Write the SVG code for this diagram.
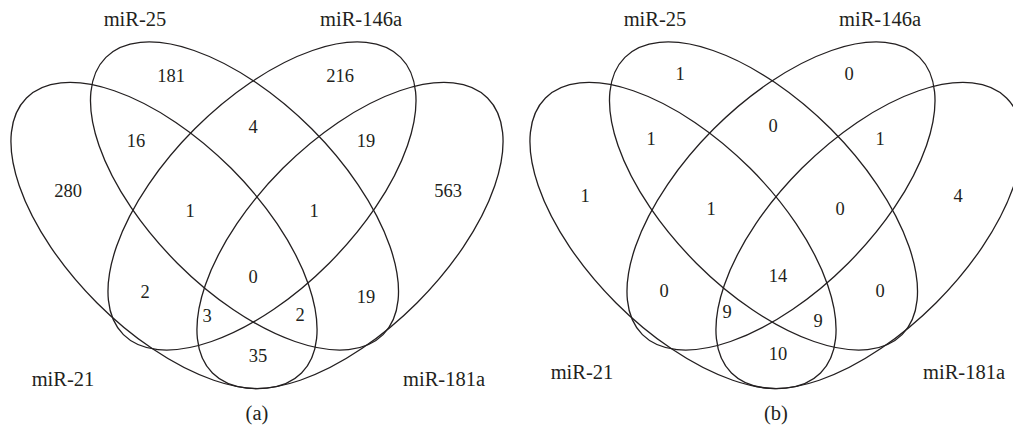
<svg xmlns="http://www.w3.org/2000/svg" width="1013" height="430" viewBox="0 0 1013 430">
<style>
.set{fill:none;stroke:#231f20;stroke-width:1.3}
.lbl{font-family:"Liberation Serif","Times New Roman",serif;font-size:20.5px;fill:#231f20;text-anchor:middle}
.num{font-family:"Liberation Serif","Times New Roman",serif;font-size:18.5px;fill:#231f20;text-anchor:middle}
</style>
<rect width="1013" height="430" fill="#fff"/>
<g id="panel-a">
  <g id="a-miR-21"><ellipse class="set" cx="164" cy="235.5" rx="194.5" ry="95" transform="rotate(45 164 235.5)"/><text class="lbl" x="63" y="386">miR-21</text></g>
  <g id="a-miR-25"><ellipse class="set" cx="244.5" cy="196" rx="196" ry="95" transform="rotate(45 244.5 196)"/><text class="lbl" x="135" y="26">miR-25</text></g>
  <g id="a-miR-146a"><ellipse class="set" cx="262" cy="196" rx="196" ry="95" transform="rotate(-45 262 196)"/><text class="lbl" x="361" y="26">miR-146a</text></g>
  <g id="a-miR-181a"><ellipse class="set" cx="350" cy="235.5" rx="194.5" ry="95" transform="rotate(-45 350 235.5)"/><text class="lbl" x="444" y="386">miR-181a</text></g>
  <g id="a-counts">
    <text class="num" x="171" y="82">181</text>
    <text class="num" x="340" y="82">216</text>
    <text class="num" x="136" y="147">16</text>
    <text class="num" x="253" y="133">4</text>
    <text class="num" x="366" y="147">19</text>
    <text class="num" x="68" y="197">280</text>
    <text class="num" x="448" y="197">563</text>
    <text class="num" x="190" y="217">1</text>
    <text class="num" x="314" y="217">1</text>
    <text class="num" x="253" y="283">0</text>
    <text class="num" x="145" y="298">2</text>
    <text class="num" x="366" y="303">19</text>
    <text class="num" x="207" y="322">3</text>
    <text class="num" x="300" y="321">2</text>
    <text class="num" x="258" y="362">35</text>
  </g>
  <text id="a-caption" class="lbl" x="257" y="420">(a)</text>
</g>
<g id="panel-b">
  <g id="b-miR-21"><ellipse class="set" cx="683" cy="235.5" rx="194.5" ry="95" transform="rotate(45 683 235.5)"/><text class="lbl" x="582" y="379">miR-21</text></g>
  <g id="b-miR-25"><ellipse class="set" cx="763.5" cy="196" rx="196" ry="95" transform="rotate(45 763.5 196)"/><text class="lbl" x="655" y="26">miR-25</text></g>
  <g id="b-miR-146a"><ellipse class="set" cx="781" cy="196" rx="196" ry="95" transform="rotate(-45 781 196)"/><text class="lbl" x="880" y="26">miR-146a</text></g>
  <g id="b-miR-181a"><ellipse class="set" cx="869" cy="235.5" rx="194.5" ry="95" transform="rotate(-45 869 235.5)"/><text class="lbl" x="964" y="379">miR-181a</text></g>
  <g id="b-counts">
    <text class="num" x="680" y="80">1</text>
    <text class="num" x="849" y="80">0</text>
    <text class="num" x="651" y="145">1</text>
    <text class="num" x="773" y="132">0</text>
    <text class="num" x="880" y="145">1</text>
    <text class="num" x="585" y="202">1</text>
    <text class="num" x="958" y="202">4</text>
    <text class="num" x="711" y="215">1</text>
    <text class="num" x="840" y="215">0</text>
    <text class="num" x="778" y="282">14</text>
    <text class="num" x="664" y="297">0</text>
    <text class="num" x="880" y="297">0</text>
    <text class="num" x="727" y="318">9</text>
    <text class="num" x="818" y="327">9</text>
    <text class="num" x="778" y="360">10</text>
  </g>
  <text id="b-caption" class="lbl" x="776" y="420">(b)</text>
</g>
</svg>
